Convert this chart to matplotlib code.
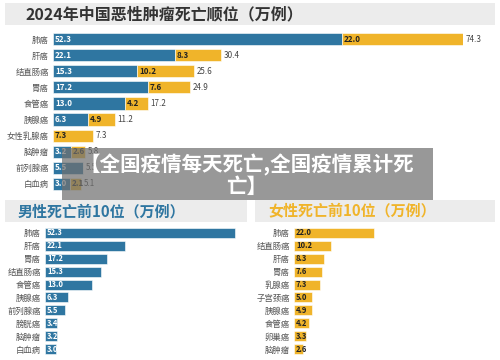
import matplotlib
matplotlib.use("Agg")
import matplotlib.pyplot as plt
from matplotlib.patches import Rectangle

plt.rcParams['font.family'] = ['Noto Sans CJK SC', 'DejaVu Sans']

# ---- data ----
top_cats = ["肺癌", "肝癌", "结直肠癌", "胃癌", "食管癌", "胰腺癌", "女性乳腺癌", "脑肿瘤", "前列腺癌", "白血病"]
top_male = [52.3, 22.1, 15.3, 17.2, 13.0, 6.3, 0.0, 3.2, 5.5, 3.0]
top_female = [22.0, 8.3, 10.2, 7.6, 4.2, 4.9, 7.3, 2.6, 0.0, 2.1]
top_total = [74.3, 30.4, 25.6, 24.9, 17.2, 11.2, 7.3, 5.8, 5.5, 5.1]

male_cats = ["肺癌", "肝癌", "胃癌", "结直肠癌", "食管癌", "胰腺癌", "前列腺癌", "膀胱癌", "脑肿瘤", "白血病"]
male_vals = [52.3, 22.1, 17.2, 15.3, 13.0, 6.3, 5.5, 3.4, 3.2, 3.0]

female_cats = ["肺癌", "结直肠癌", "肝癌", "胃癌", "乳腺癌", "子宫颈癌", "胰腺癌", "食管癌", "卵巢癌", "脑肿瘤"]
female_vals = [22.0, 10.2, 8.3, 7.6, 7.3, 5.0, 4.9, 4.2, 3.3, 2.6]

title_top = "2024年中国恶性肿瘤死亡顺位（万例）"
title_male = "男性死亡前10位（万例）"
title_female = "女性死亡前10位（万例）"
caption = "【全国疫情每天死亡,全国疫情累计死\n亡】"

BLUE = "#2f76a1"
YELLOW = "#f0b42a"
LABEL = "#555555"
BARBG = "#ececec"

W, H = 500, 360
fig = plt.figure(figsize=(5, 3.6), dpi=100)
fig.patch.set_facecolor("white")


def px_axes(x0, y0, x1, y1):
    return fig.add_axes([x0 / W, 1 - y1 / H, (x1 - x0) / W, (y1 - y0) / H])


def fig_rect(x0, y0, x1, y1, **kw):
    fig.patches.append(Rectangle((x0 / W, 1 - y1 / H), (x1 - x0) / W, (y1 - y0) / H,
                                 transform=fig.transFigure, figure=fig, **kw))


def clean(ax):
    for s in ax.spines.values():
        s.set_visible(False)
    ax.set_xticks([])
    ax.tick_params(axis='y', length=0, pad=3, labelsize=6, labelcolor=LABEL)
    ax.set_facecolor("none")


# title bars
fig_rect(5, 3, 495, 25, facecolor=BARBG, edgecolor="none")
fig.text(25 / W, 1 - 14 / H, title_top, fontsize=11.5, fontweight="bold", color="#333333", va="center", ha="left")
fig_rect(5, 200, 247, 222, facecolor=BARBG, edgecolor="none")
fig.text(18 / W, 1 - 211 / H, title_male, fontsize=10.8, fontweight="bold", color=BLUE, va="center", ha="left")
fig_rect(255, 200, 495, 222, facecolor=BARBG, edgecolor="none")
fig.text(268 / W, 1 - 211 / H, title_female, fontsize=10.8, fontweight="bold", color=YELLOW, va="center", ha="left")

# ---- top stacked chart ----
ax = px_axes(53, 31, 463, 192)
y = list(range(len(top_cats)))
ax.barh(y, top_male, height=0.76, color=BLUE, edgecolor="white", linewidth=0.4)
ax.barh(y, top_female, left=top_male, height=0.76, color=YELLOW, edgecolor="white", linewidth=0.4)
ax.set_xlim(0, 74.3)
ax.set_ylim(len(top_cats) - 0.5, -0.5)
ax.set_yticks(y)
ax.set_yticklabels(top_cats)
clean(ax)
for i in y:
    if top_male[i] > 0:
        ax.annotate(f"{top_male[i]:.1f}", (0, i), xytext=(1.5, 0), textcoords="offset points",
                    fontsize=5.8, fontweight="bold", color="white", va="center", ha="left")
    if top_female[i] > 0:
        ax.annotate(f"{top_female[i]:.1f}", (top_male[i], i), xytext=(1.5, 0), textcoords="offset points",
                    fontsize=5.8, fontweight="bold", color="#222222", va="center", ha="left")
    ax.annotate(f"{top_total[i]:.1f}", (top_male[i] + top_female[i], i), xytext=(2, 0),
                textcoords="offset points", fontsize=5.8, color="#444444", va="center", ha="left",
                annotation_clip=False)

# ---- male chart ----
scale = 3.63
axm = px_axes(45, 226.5, 245, 355.5)
ym = list(range(len(male_cats)))
axm.barh(ym, male_vals, height=0.78, color=BLUE, edgecolor="white", linewidth=0.4)
axm.set_xlim(0, 200 / scale)
axm.set_ylim(len(male_cats) - 0.5, -0.5)
axm.set_yticks(ym)
axm.set_yticklabels(male_cats)
clean(axm)
for i in ym:
    axm.annotate(f"{male_vals[i]:.1f}", (0, i), xytext=(1.5, 0), textcoords="offset points",
                 fontsize=5.5, fontweight="bold", color="white", va="center", ha="left")

# ---- female chart ----
axf = px_axes(294, 226.5, 494, 355.5)
yf = list(range(len(female_cats)))
axf.barh(yf, female_vals, height=0.78, color=YELLOW, edgecolor="white", linewidth=0.4)
axf.set_xlim(0, 200 / scale)
axf.set_ylim(len(female_cats) - 0.5, -0.5)
axf.set_yticks(yf)
axf.set_yticklabels(female_cats)
clean(axf)
for i in yf:
    axf.annotate(f"{female_vals[i]:.1f}", (0, i), xytext=(1.5, 0), textcoords="offset points",
                 fontsize=5.5, fontweight="bold", color="#222222", va="center", ha="left")

# ---- overlay caption ----
fig_rect(62, 148, 433, 200, facecolor="#707070", edgecolor="none", alpha=0.72, zorder=10)
fig.text(247 / W, 1 - 175 / H, caption, fontsize=14.8, fontweight="bold", color="white",
         ha="center", va="center", linespacing=1.0, zorder=11)

fig.savefig("out.png", dpi=100)
